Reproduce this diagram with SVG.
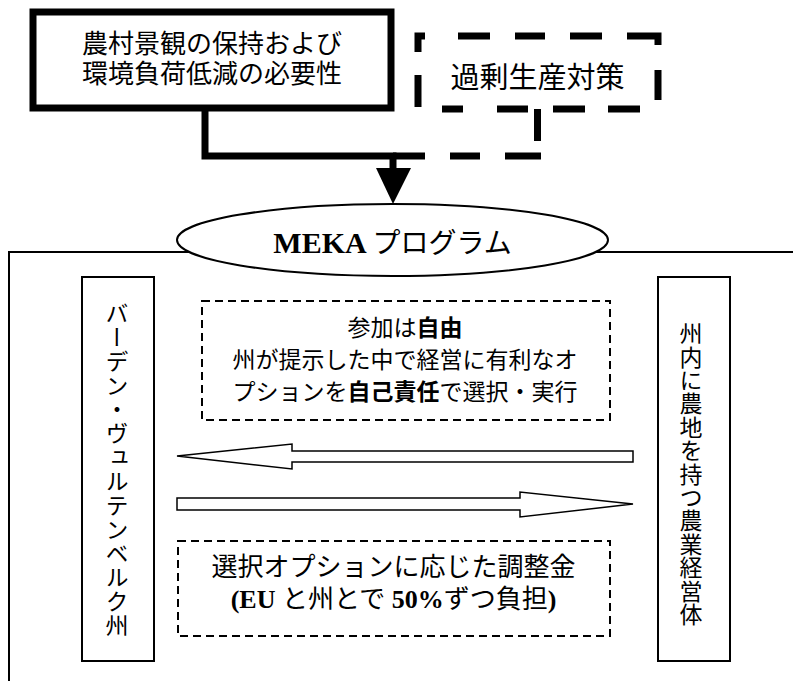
<svg xmlns="http://www.w3.org/2000/svg" width="793" height="681" viewBox="0 0 793 681">
<style>
.jp{font-family:"Noto Sans CJK JP","Noto Sans",sans-serif;fill:#000}
.lat{font-family:"Liberation Serif","Noto Sans CJK JP",serif;font-weight:bold;fill:#000}
.b{font-weight:bold}
.thick{fill:#fff;stroke:#000;stroke-width:7}
.thin{fill:#fff;stroke:#000;stroke-width:2}
.dash{fill:#fff;stroke:#000;stroke-width:2;stroke-dasharray:8 5}
.blk{fill:#fff;stroke:#000;stroke-width:1.5;stroke-linejoin:miter}
</style>
<rect width="793" height="681" fill="#fff"/>

<g id="frame">
  <path d="M9,681 V252 H793" fill="none" stroke="#000" stroke-width="2"/>
</g>

<g id="connectors">
  <path d="M205,108 V156 H393 V170" fill="none" stroke="#000" stroke-width="7" stroke-linejoin="miter"/>
  <path d="M537.5,108 V141 M537.5,152.5 V159.5 M541,156 H505 M480,156 H450 M425,156 H393" fill="none" stroke="#000" stroke-width="7"/>
  <polygon points="376,168 411,168 393,204" fill="#000"/>
  <polygon class="blk" points="177,456 292,444 292,451 633,451 633,462 292,462 292,469"/>
  <polygon class="blk" points="177,498 520,498 520,492 633,504 520,517 520,510 177,510"/>
</g>

<g id="box-need">
  <rect class="thick" x="33" y="12" width="358" height="96"/>
  <text class="jp" x="212" y="53" font-size="26" text-anchor="middle">農村景観の保持および</text>
  <text class="jp" x="212" y="83" font-size="26" text-anchor="middle">環境負荷低減の必要性</text>
</g>

<g id="box-surplus">
  <rect x="418" y="36" width="240" height="73" fill="#fff"/>
  <path d="M418,52 V36 H425 M458,36 H490 M515,36 H545 M570,36 H602 M627,36 H658 V45 M658,70 V100 M418,75 V107 M442,109 H463 M497,109 H528 M553,109 H585 M608,109 H640" fill="none" stroke="#000" stroke-width="7" stroke-linejoin="miter"/>
  <text class="jp" x="537.5" y="88" font-size="29" text-anchor="middle">過剰生産対策</text>
</g>

<g id="meka">
  <ellipse cx="392.5" cy="240" rx="215.5" ry="36" fill="#fff" stroke="#000" stroke-width="2"/>
  <text x="392.5" y="253" text-anchor="middle"><tspan class="lat" font-size="30">MEKA </tspan><tspan class="jp" font-size="28">プログラム</tspan></text>
</g>

<g id="baden">
  <rect class="thin" x="82" y="277" width="72" height="384"/>
  <text class="jp" x="117" y="302" font-size="23" letter-spacing="1" style="writing-mode:vertical-rl">バーデン・ヴュルテンベルク州</text>
</g>

<g id="farmers">
  <rect class="thin" x="658" y="277" width="72" height="384"/>
  <text class="jp" x="691" y="322" font-size="23" letter-spacing="0.4" style="writing-mode:vertical-rl">州内に農地を持つ農業経営体</text>
</g>

<g id="info-top">
  <rect class="dash" x="202" y="301" width="408" height="119"/>
  <text class="jp" x="405" y="336" font-size="23" text-anchor="middle">参加は<tspan class="b">自由</tspan></text>
  <text class="jp" x="405" y="368" font-size="23" text-anchor="middle">州が提示した中で経営に有利なオ</text>
  <text class="jp" x="405" y="400" font-size="23" text-anchor="middle">プションを<tspan class="b">自己責任</tspan>で選択・実行</text>
</g>

<g id="info-bottom">
  <rect class="dash" x="178" y="541" width="432" height="95"/>
  <text class="jp" x="393.5" y="576" font-size="26" text-anchor="middle">選択オプションに応じた調整金</text>
  <text x="393.5" y="608" font-size="26" text-anchor="middle"><tspan class="lat">(EU </tspan><tspan class="jp">と州とで</tspan><tspan class="lat"> 50%</tspan><tspan class="jp">ずつ負担</tspan><tspan class="lat">)</tspan></text>
</g>
</svg>
